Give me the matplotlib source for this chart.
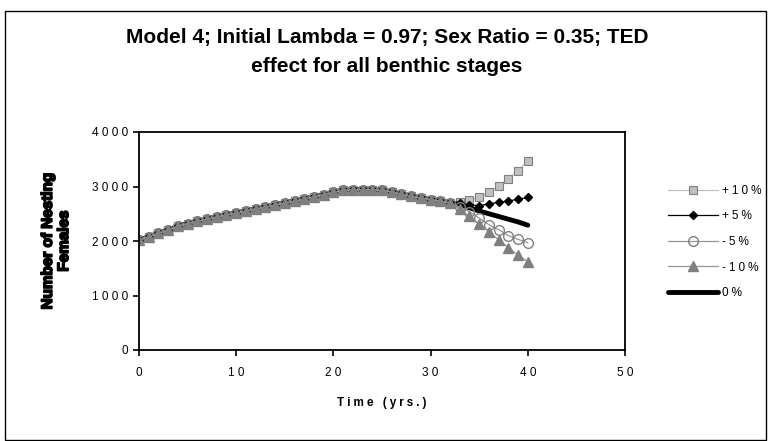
import matplotlib.pyplot as plt
import matplotlib.patheffects as pe
from matplotlib.patches import Rectangle

plt.rcParams['font.family'] = ['Liberation Sans', 'DejaVu Sans']

years = list(range(0, 41))
# shared part of every run, years 0-32
shared = [2010, 2080, 2140, 2200, 2270, 2320, 2360, 2400, 2440, 2480,
          2510, 2550, 2590, 2620, 2660, 2700, 2730, 2770, 2810, 2850,
          2890, 2930, 2940, 2940, 2940, 2930, 2900, 2860, 2820, 2790,
          2760, 2730, 2700]
plus10 = shared + [2720, 2750, 2800, 2890, 3010, 3140, 3290, 3470]
plus5 = shared + [2690, 2660, 2650, 2680, 2710, 2735, 2765, 2800]
minus5 = shared + [2620, 2540, 2420, 2300, 2210, 2100, 2030, 1970]
minus10 = shared + [2580, 2450, 2310, 2170, 2020, 1880, 1740, 1620]
zero = shared + [2670, 2610, 2550, 2500, 2450, 2400, 2350, 2290]

labels = ['+10%', '+5%', '-5%', '-10%', '0%']
xticks = [0, 10, 20, 30, 40, 50]
yticks = [0, 1000, 2000, 3000, 4000]


def spaced(s, gap='\u2005'):
    return gap.join(s)


fig = plt.figure(figsize=(7.69, 4.41), dpi=100)
ax = fig.add_axes([139/769, 91/441, 486/769, 218/441])

l1, = ax.plot(years, plus10, color='#c0c0c0', lw=0.9, marker='s', ms=6,
              mfc='#c0c0c0', mec='#808080', mew=0.8, label=spaced(labels[0]))
l2, = ax.plot(years, plus5, color='black', lw=0.9, marker='D', ms=4.5,
              mfc='black', mec='black', label=spaced(labels[1]))
l5, = ax.plot(years, zero, color='black', lw=3.5, solid_capstyle='round',
              label=spaced(labels[4]))
l3, = ax.plot(years, minus5, color='#969696', lw=0.9, marker='o', ms=7,
              mfc='none', mec='#808080', mew=1.0, label=spaced(labels[2]))
l4, = ax.plot(years, minus10, color='#969696', lw=0.9, marker='^', ms=6.5,
              mfc='#808080', mec='#808080', label=spaced(labels[3]))

ax.set_xlim(0, 50)
ax.set_ylim(0, 4000)
ax.set_xticks(xticks)
ax.set_xticklabels([spaced(str(v), ' ') for v in xticks])
ax.set_yticks(yticks)
ax.set_yticklabels([spaced(str(v), ' ') for v in yticks])
ax.tick_params(axis='both', direction='out', length=4, width=1.2,
               labelsize=8.5, colors='black')
ax.tick_params(axis='x', pad=8)
ax.tick_params(axis='y', pad=4)
for sp in ax.spines.values():
    sp.set_linewidth(1.3)

ax.set_xlabel(spaced('Time (yrs.)'), fontsize=8.5, fontweight='bold',
              labelpad=13)
fig.text(56/769, 1 - 241/441, 'Number of Nesting\nFemales', rotation=90,
         ha='center', va='center', fontsize=11, fontweight='heavy',
         linespacing=1.2,
         path_effects=[pe.withStroke(linewidth=1.2, foreground='black')])

fig.text(0.503, 1 - 37/441, 'Model 4; Initial Lambda = 0.97; Sex Ratio = 0.35; TED',
         ha='center', va='center', fontsize=15, fontweight='bold')
fig.text(0.503, 1 - 67/441, 'effect for all benthic stages',
         ha='center', va='center', fontsize=15, fontweight='bold')

fig.legend(handles=[l1, l2, l3, l4, l5], loc='center left',
           bbox_to_anchor=(668/769, 1 - 242/441), frameon=False,
           fontsize=8.5, handlelength=4.2, handletextpad=0.4,
           labelspacing=1.15, borderpad=0, borderaxespad=0)

fig.patches.append(Rectangle((5/769, 1/441), 761/769, 429/441,
                             transform=fig.transFigure, fill=False,
                             edgecolor='black', lw=1.0))

fig.savefig('out.png', dpi=100)
